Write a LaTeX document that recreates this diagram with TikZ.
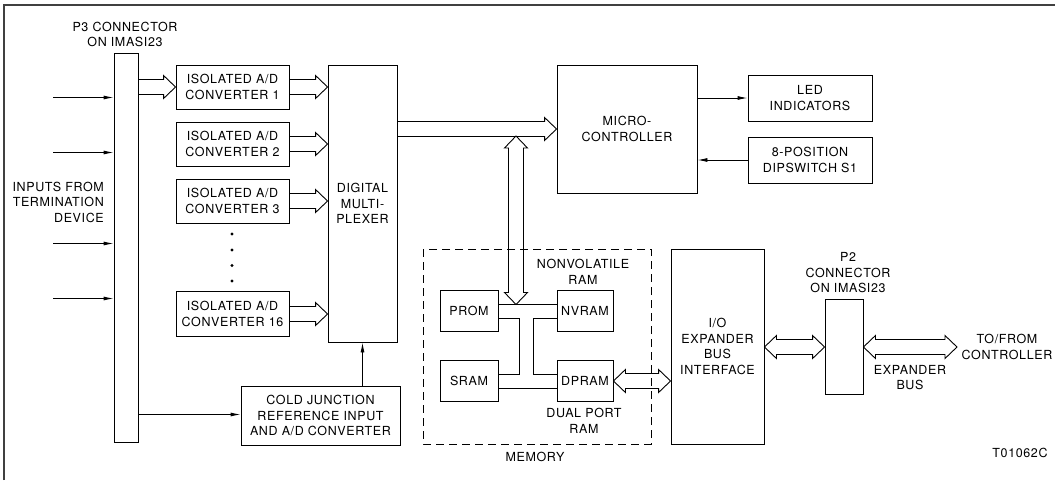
\documentclass[tikz,border=0pt]{standalone}
\usepackage{fontspec}
\setmainfont{TeX Gyre Heros}[LetterSpace=5]
\usetikzlibrary{arrows.meta,calc}
\begin{document}
\begin{tikzpicture}[x=1pt,y=-1pt,
  every node/.style={font=\fontsize{12.5}{15.5}\selectfont, align=center, inner sep=0pt},
  blk/.style={draw, line width=0.9pt, minimum width=#1},
  lbl/.style={},
  thin/.style={line width=0.9pt, -{Latex[length=10pt,width=4pt]}},
  ln/.style={line width=0.9pt},
  fat/.style={line width=0.9pt, line join=miter},
  fatR/.style={to path={let \p1=(\tikztostart), \p2=(\tikztotarget) in
    (\x1,\y2+7.5pt) -- (\x2-12pt,\y2+7.5pt) -- (\x2-12pt,\y2+11.5pt) -- (\x2,\y2)
    -- (\x2-12pt,\y2-11.5pt) -- (\x2-12pt,\y2-7.5pt) -- (\x1,\y2-7.5pt)}},
  fatLR/.style={to path={let \p1=(\tikztostart), \p2=(\tikztotarget) in
    (\x1+12pt,\y2+7.5pt) -- (\x2-12pt,\y2+7.5pt) -- (\x2-12pt,\y2+11.5pt) -- (\x2,\y2)
    -- (\x2-12pt,\y2-11.5pt) -- (\x2-12pt,\y2-7.5pt) -- (\x1+12pt,\y2-7.5pt)
    -- (\x1+12pt,\y2-11.5pt) -- (\x1,\y2) -- (\x1+12pt,\y2+11.5pt) -- cycle}},
  fatUD/.style={to path={let \p1=(\tikztostart), \p2=(\tikztotarget) in
    (\x1+7.5pt,\y1-12pt) -- (\x1+7.5pt,\y2+12pt) -- (\x1+11.5pt,\y2+12pt) -- (\x1,\y2)
    -- (\x1-11.5pt,\y2+12pt) -- (\x1-7.5pt,\y2+12pt) -- (\x1-7.5pt,\y1-12pt)
    -- (\x1-11.5pt,\y1-12pt) -- (\x1,\y1) -- (\x1+11.5pt,\y1-12pt) -- cycle}}
]
\useasboundingbox (0,0) rectangle (1055,480);
% frame
\draw[line width=1.3pt, black!75] (4,480) -- (4,5) -- (1055,5);

% P3 connector
\node[blk=24pt, minimum height=389pt] (p3) at (126,247.5) {};
\node[lbl] (p3l) at (125,34.5) {P3 CONNECTOR\\ON IMASI23};
\node[lbl, anchor=east, align=right] (inl) at (104,202) {INPUTS FROM\\TERMINATION\\DEVICE};

% converters
\node[blk=113pt, minimum height=44pt] (c1) at (232.5,87) {ISOLATED A/D\\CONVERTER 1};
\node[blk=113pt, minimum height=44pt] (c2) at (232.5,144) {ISOLATED A/D\\CONVERTER 2};
\node[blk=113pt, minimum height=44pt] (c3) at (232.5,201) {ISOLATED A/D\\CONVERTER 3};
\node[blk=113pt, minimum height=45pt] (c16) at (232.5,314) {ISOLATED A/D\\CONVERTER 16};
\foreach \yy in {234,250,265.5,281} \fill (232,\yy) circle (1.6pt);

% mux
\node[blk=69pt, minimum height=277pt] (mux) at (362.5,203.5) {DIGITAL\\MULTI-\\PLEXER};
% cold junction
\node[blk=159pt, minimum height=59pt] (cj) at (320.5,415.5) {COLD JUNCTION\\REFERENCE INPUT\\AND A/D CONVERTER};

% micro
\node[blk=140pt, minimum height=128pt] (mc) at (627,129) {MICRO-\\CONTROLLER};
\node[blk=124pt, minimum height=46pt] (led) at (810,98) {LED\\INDICATORS};
\node[blk=124pt, minimum height=46pt] (dip) at (810,160) {8-POSITION\\DIPSWITCH S1};

% memory
\draw[line width=0.9pt, dash pattern=on 8pt off 5pt] (423,249) rectangle (651,444);
\node[lbl] (meml) at (535,457) {MEMORY};
\node[blk=58pt, minimum height=41pt] (prom) at (469,311) {PROM};
\node[blk=56pt, minimum height=41pt] (nvram) at (585,311) {NVRAM};
\node[blk=58pt, minimum height=41pt] (sram) at (469,381) {SRAM};
\node[blk=56pt, minimum height=41pt] (dpram) at (585,381) {DPRAM};
\node[lbl] (nvl) at (583,272) {NONVOLATILE\\RAM};
\node[lbl] (dpl) at (584,421) {DUAL PORT\\RAM};

% I/O expander
\node[blk=93pt, minimum height=195pt] (io) at (717.5,346.5) {I/O\\EXPANDER\\BUS\\INTERFACE};
\node[blk=38pt, minimum height=95pt] (p2) at (844,347) {};
\node[lbl] (p2l) at (848,273) {P2\\CONNECTOR\\ON IMASI23};
\node[lbl] (tfl) at (1007,347) {TO/FROM\\CONTROLLER};
\node[lbl] (ebl) at (910,377.5) {EXPANDER\\BUS};
\node[lbl] (tag) at (1020,453) {T01062C};

% coordinates
\coordinate (in1) at (53,97.5);
\coordinate (in2) at (53,152.5);
\coordinate (in3) at (53,243.5);
\coordinate (in4) at (53,298.5);
\coordinate (cjy) at (0,414.5);
\coordinate (yT) at (0,304.5);
\coordinate (yM) at (0,318.5);
\coordinate (yL) at (0,374.5);
\coordinate (yB) at (0,388.5);
\coordinate (xL) at (519.5,0);
\coordinate (xR) at (533.5,0);
\coordinate (bh) at (516,136);
\coordinate (bt) at (516,304.5);
\coordinate (out) at (957,347);

% thin arrows
\foreach \i in {in1,in2,in3,in4} \draw[thin] (\i) -- (p3.west |- \i);
\draw[thin] (p3.east |- cjy) -- (cj.west |- cjy);
\draw[thin] (cj.north -| mux.south) -- (mux.south);
\draw[thin] (mc.east |- led.west) -- (led.west);
\draw[thin] (dip.west) -- (mc.east |- dip.west);

% fat arrows
\draw[fat] (p3.east |- c1) to[fatR] (c1.west);
\foreach \c in {c1,c2,c3,c16} \draw[fat] (\c.east) to[fatR] (mux.west |- \c.east);
\draw[fat] (mux.east |- mc.west) to[fatR] (mc.west);
\draw[fat] (bh) to[fatUD] (bt);
\draw[fat] (dpram.east) to[fatLR] (io.west |- dpram.east);
\draw[fat] (io.east |- p2.west) to[fatLR] (p2.west);
\draw[fat] (p2.east) to[fatLR] (out);

% memory bus
\draw[ln] (prom.east |- yT) -- (nvram.west |- yT);
\draw[ln] (prom.east |- yM) -- (xL |- yM) -- (xL |- yL) -- (sram.east |- yL);
\draw[ln] (nvram.west |- yM) -- (xR |- yM) -- (xR |- yL) -- (dpram.west |- yL);
\draw[ln] (sram.east |- yB) -- (dpram.west |- yB);
\end{tikzpicture}
\end{document}
